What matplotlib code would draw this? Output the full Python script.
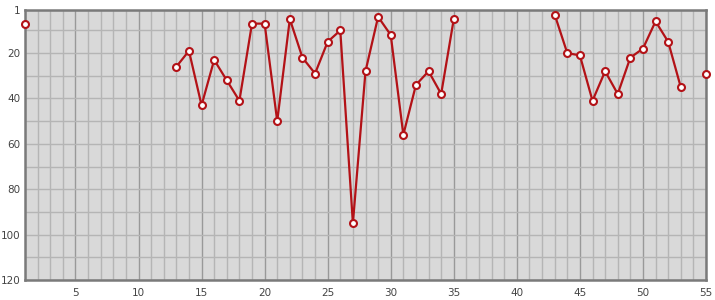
import numpy as np
import matplotlib
matplotlib.use("Agg")
import matplotlib.pyplot as plt
from matplotlib.ticker import FixedLocator, MultipleLocator

nan = np.nan
days = list(range(1, 56))
rank = [7] + [nan] * 11 + [
    26, 19, 43, 23, 32, 41, 7, 7, 50, 5, 22, 29, 15, 10, 95, 28, 4, 12, 56, 34, 28, 38, 5,
] + [nan] * 7 + [
    3, 20, 21, 41, 28, 38, 22, 18, 6, 15, 35,
] + [nan, 29]

x_ticks = [5, 10, 15, 20, 25, 30, 35, 40, 45, 50, 55]
y_ticks = [1, 20, 40, 60, 80, 100, 120]

fig = plt.figure(figsize=(7.15, 3.0), dpi=100)
ax = fig.add_axes([25 / 715, 20 / 300, 681 / 715, 270 / 300])
ax.set_facecolor("#d9d9d9")

ax.set_xlim(1, 55)
ax.set_ylim(120, 1)

ax.xaxis.set_major_locator(FixedLocator(x_ticks))
ax.xaxis.set_minor_locator(MultipleLocator(1))
ax.yaxis.set_major_locator(FixedLocator(y_ticks))
ax.yaxis.set_minor_locator(FixedLocator(range(10, 120, 10)))

ax.grid(which="minor", color="#b5b5b5", lw=1.0)
ax.grid(which="major", axis="x", color="#999999", lw=1.0)
ax.grid(which="major", axis="y", color="#b5b5b5", lw=1.0)
ax.set_axisbelow(True)

ax.tick_params(which="both", length=0, labelsize=7.5, labelcolor="#444444")
ax.tick_params(axis="x", pad=6)
ax.tick_params(axis="y", pad=3)

for s in ax.spines.values():
    s.set_color("#7a7a7a")
    s.set_linewidth(1.8)

ax.plot(days, rank, color="#b31217", lw=1.6, marker="o", ms=5,
        mfc="white", mec="#b31217", mew=1.5, clip_on=False, zorder=3)

fig.savefig("out.png", dpi=100)
